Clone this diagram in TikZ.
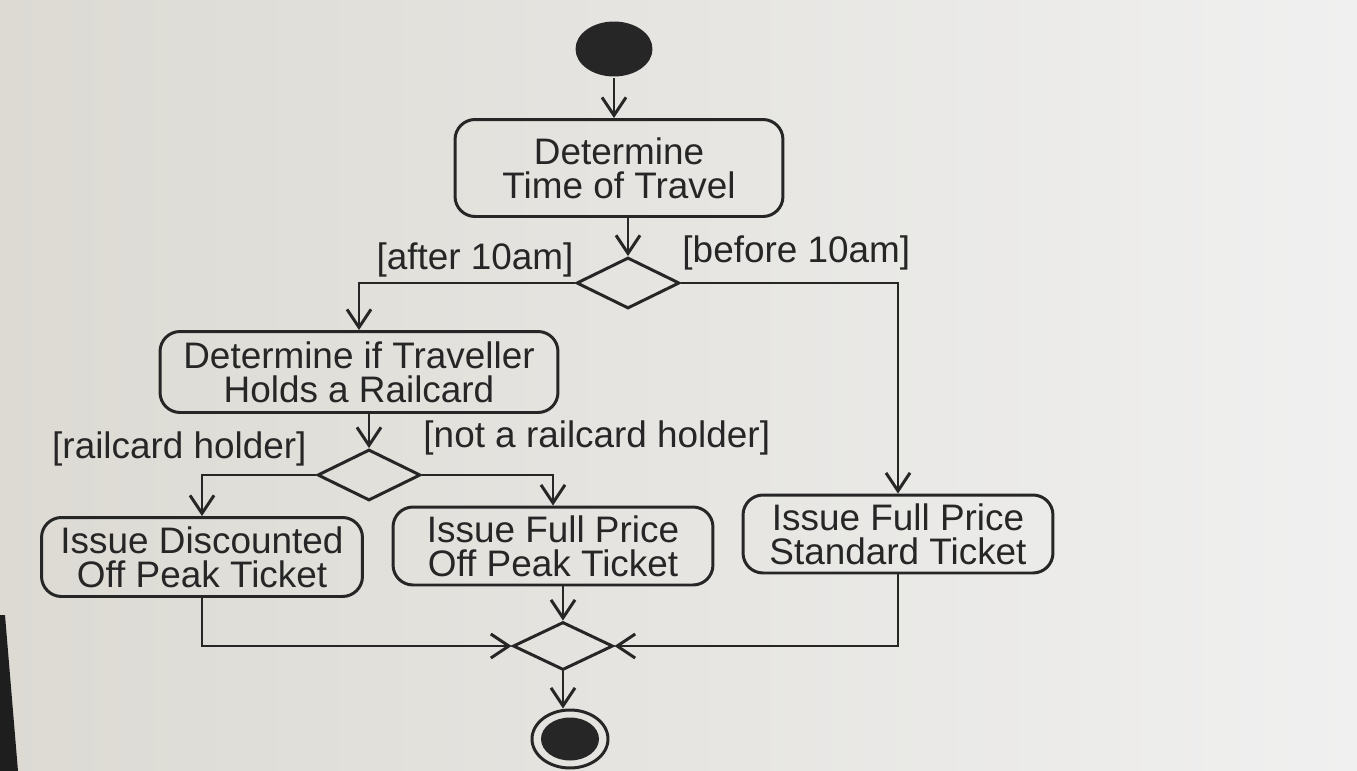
\documentclass[tikz,border=0pt]{standalone}
\usepackage{fontspec}
\setmainfont{Liberation Sans}
\usetikzlibrary{shapes.geometric,arrows.meta}
\definecolor{ink}{HTML}{262626}
\definecolor{paperL}{RGB}{220,218,211}
\definecolor{paperR}{RGB}{240,240,240}
\definecolor{bezel}{HTML}{1E1E1E}

\begin{document}
\begin{tikzpicture}[x=0.02cm,y=-0.02cm,color=ink,line width=1.7pt,
	act/.style={draw, rounded corners=0.4cm, align=center, inner sep=0pt, font=\fontsize{21}{19.5}\selectfont},
	decision/.style={diamond, draw, inner sep=0pt, minimum width=2.06cm, minimum height=1.02cm},
	guard/.style={inner sep=0pt, font=\fontsize{21}{19.5}\selectfont},
	flow/.style={-{Straight Barb[length=0.36cm,width=0.48cm]}}]
	\useasboundingbox (0,0) rectangle (1357,771);
	\fill[left color=paperL, right color=paperR] (0,0) rectangle (1357,771);
	\fill[bezel] (0,615) -- (5,615) -- (18,771) -- (0,771) -- cycle;

	\node[ellipse, fill, inner sep=0pt, minimum width=1.54cm, minimum height=1.1cm] (start) at (614,49) {};
	\node[act, minimum width=6.56cm, minimum height=1.94cm] (act1) at (619,168) {Determine\\Time of Travel};
	\node[decision] (dec1) at (628,283) {};
	\node[act, minimum width=7.96cm, minimum height=1.62cm] (act2) at (359,372) {Determine if Traveller\\Holds a Railcard};
	\node[decision] (dec2) at (369,475) {};
	\node[act, minimum width=6.42cm, minimum height=1.58cm] (act3) at (202,557) {Issue Discounted\\Off Peak Ticket};
	\node[act, minimum width=6.4cm, minimum height=1.56cm] (act4) at (553,546) {Issue Full Price\\Off Peak Ticket};
	\node[act, minimum width=6.2cm, minimum height=1.56cm] (act5) at (898,534) {Issue Full Price\\Standard Ticket};
	\node[decision, minimum width=2cm, minimum height=0.96cm] (merge) at (563,646) {};
	\node[ellipse, draw, inner sep=0pt, minimum width=1.52cm, minimum height=1.16cm] (end) at (570,739) {};
	\node[ellipse, fill, inner sep=0pt, minimum width=1.16cm, minimum height=0.86cm] (endDot) at (end) {};

	\draw[flow] (start) -- (start |- act1.north);
	\draw[flow] (dec1 |- act1.south) -- (dec1);
	\draw[flow] (dec1) -| node[guard, pos=0, anchor=south east, yshift=0.08cm] {[after 10am]} (act2);
	\draw[flow] (dec1) -| node[guard, pos=0, anchor=south west, yshift=0.22cm] {[before 10am]} (act5);
	\draw[flow] (dec2 |- act2.south) -- (dec2);
	\draw[flow] (dec2) -| node[guard, pos=0, anchor=south east, xshift=-0.16cm, yshift=0.14cm] {[railcard holder]} (act3);
	\draw[flow] (dec2) -| node[guard, pos=0, anchor=south west, yshift=0.36cm] {[not a railcard holder]} (act4);
	\draw[flow] (act3) |- (merge);
	\draw[flow] (merge |- act4.south) -- (merge);
	\draw[flow] (act5) |- (merge);
	\draw[flow] (merge) -- (merge |- end.north);
\end{tikzpicture}
\end{document}
